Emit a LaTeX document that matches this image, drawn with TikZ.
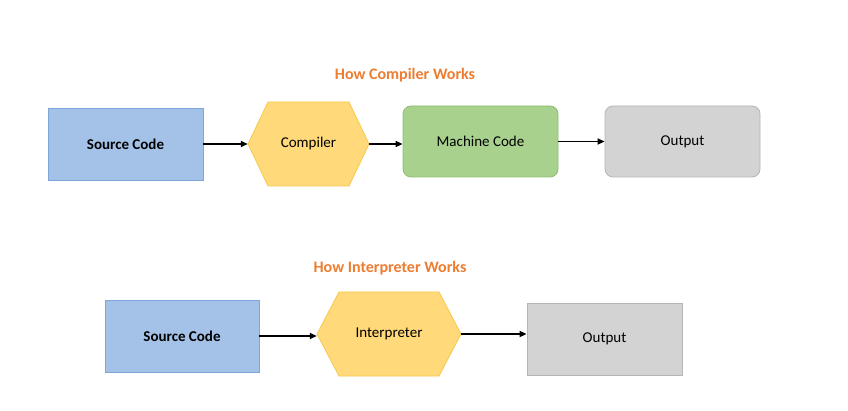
\documentclass[tikz,border=0pt]{standalone}
\usepackage{fontspec}
\setmainfont{Carlito}
\usetikzlibrary{arrows.meta}
\definecolor{bfill}{HTML}{A4C2E8}\definecolor{bdraw}{HTML}{7FA6D8}
\definecolor{yfill}{HTML}{FFD97A}\definecolor{ydraw}{HTML}{F6C94E}
\definecolor{gfill}{HTML}{A9D18E}\definecolor{gdraw}{HTML}{8DBF72}
\definecolor{kfill}{HTML}{D3D3D3}\definecolor{kdraw}{HTML}{B5B5B5}
\definecolor{ttl}{HTML}{ED7D31}
\tikzset{
 box/.style={draw=#1draw,fill=#1fill,line width=0.8pt,minimum height=72pt,font=\fontsize{15}{17}\selectfont},
 hexa/.style={draw=ydraw,fill=yfill,line width=0.8pt},
 lbl/.style={font=\fontsize{15}{17}\selectfont},
 title/.style={text=ttl,font=\bfseries\fontsize{16}{19}\selectfont},
 arr/.style={-{Triangle[length=7pt,width=6pt]},line width=1.6pt,black}
}
\newcommand{\hexpath}[5]{% x1 x2 ytop ybottom dx
 \path[hexa] (#1,{(#3+#4)/2}) -- (#1+#5,#3) -- (#2-#5,#3) -- (#2,{(#3+#4)/2}) -- (#2-#5,#4) -- (#1+#5,#4) -- cycle;}
\begin{document}
\begin{tikzpicture}[x=1pt,y=-1pt]
\path[fill=white] (0,0) rectangle (848,411);
\node[title] (t1) at (405,75) {How Compiler Works};
\node[box=b,minimum width=155pt,font=\bfseries\fontsize{15}{17}\selectfont] (sc1) at (125.5,144) {Source Code};
\hexpath{248}{369}{102}{186}{20}
\node[lbl,minimum width=121pt,minimum height=84pt,inner sep=0] (comp) at (308.5,144) {Compiler};
\node[box=g,rounded corners=8pt,minimum width=155pt,minimum height=71pt] (mc) at (480.5,141.5) {Machine Code};
\node[box=k,rounded corners=8pt,minimum width=155pt,minimum height=71pt] (out1) at (682.5,141.5) {Output};
\draw[arr] (sc1.east) -- (comp.west);
\draw[arr] (comp.east) -- (comp.east -| mc.west);
\draw[arr] (mc.east) -- (out1.west);
\node[title] (t2) at (390,268) {How Interpreter Works};
\node[box=b,minimum width=154pt,font=\bfseries\fontsize{15}{17}\selectfont] (sc2) at (182,336) {Source Code};
\hexpath{317}{461}{292}{376}{22}
\node[lbl,minimum width=144pt,minimum height=84pt,inner sep=0] (intp) at (389,334) {Interpreter};
\node[box=k,minimum width=155pt,minimum height=72pt] (out2) at (604.5,339) {Output};
\draw[arr] (sc2.east) -- (sc2.east -| intp.west);
\draw[arr] (intp.east) -- (intp.east -| out2.west);
\end{tikzpicture}
\end{document}
